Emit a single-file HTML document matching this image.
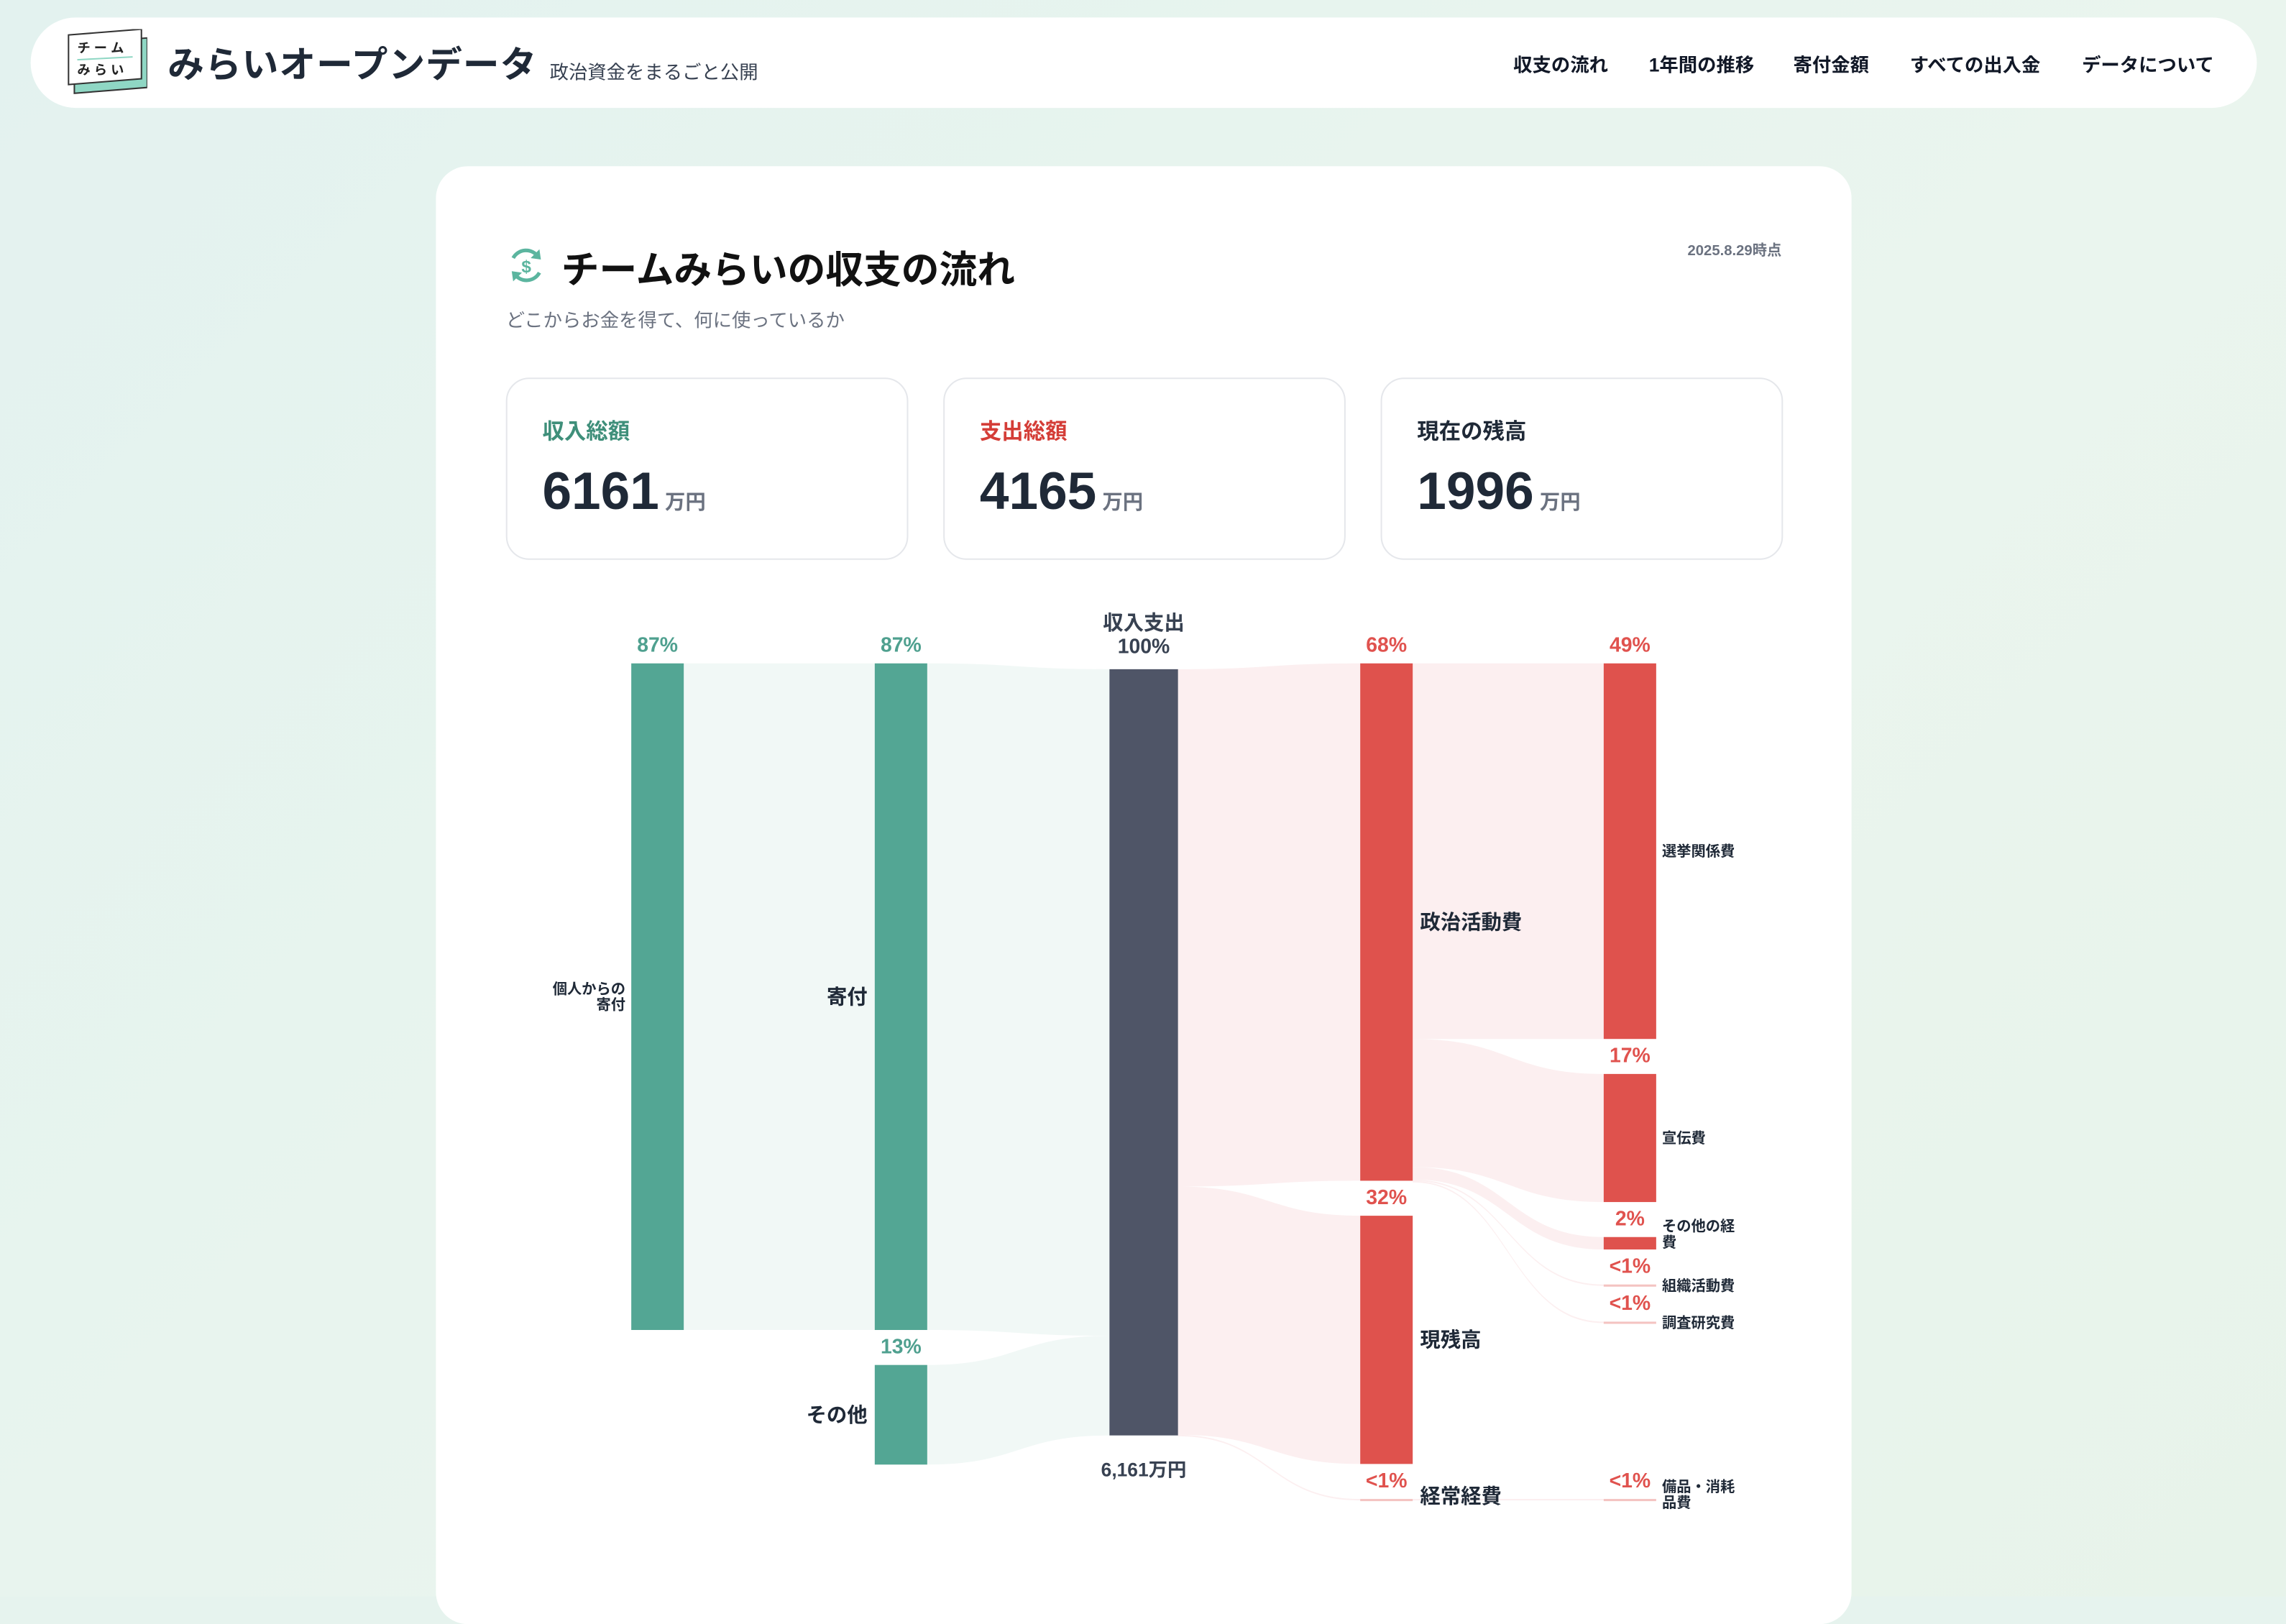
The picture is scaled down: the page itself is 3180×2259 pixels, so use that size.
<!DOCTYPE html>
<html><head><meta charset="utf-8">
<style>
html,body{margin:0;padding:0;width:3180px;height:2220px;overflow:hidden;background:#e6f3ee}
#root{position:absolute;left:0;top:0;width:1568px;height:1095px;transform:scale(2.02806);transform-origin:0 0;
 font-family:"Liberation Sans","Noto Sans CJK JP",sans-serif;color:#1f2937;
 background:linear-gradient(135deg,#e3f2ef 0%,#eaf5ee 60%,#e7f3ea 100%)}
.header{position:absolute;left:21px;top:12px;width:1527px;height:62px;background:#fff;border-radius:31px}
.logo{position:absolute;left:24px;top:8px;width:56px;height:46px}
.brand{position:absolute;left:94px;top:13px;font-size:25px;font-weight:bold;color:#1f2937;letter-spacing:0.5px}
.tag{position:absolute;left:356px;top:27px;font-size:13px;color:#374151}
.nav{position:absolute;top:22px;font-size:13px;font-weight:bold;color:#111827}
.card{position:absolute;left:299px;top:114px;width:971px;height:1000px;background:#fff;border-radius:22px}
.title{position:absolute;left:86px;top:51px;font-size:26px;font-weight:bold;color:#111}
.sub{position:absolute;left:48px;top:95px;font-size:13px;color:#6b7280}
.date{position:absolute;right:48px;top:49px;font-size:10px;font-weight:bold;color:#6b7280}
.kpi{position:absolute;top:145px;width:276px;height:125px;border:1px solid #e5e7eb;border-radius:16px;box-sizing:border-box}
.kpi .l{position:absolute;left:24px;top:25px;font-size:15px;font-weight:bold}
.kpi .v{position:absolute;left:24px;top:56px;font-size:36px;font-weight:bold;color:#1f2937}
.kpi .v span{font-size:14px;color:#6b7280;margin-left:4px}
svg text{font-family:"Liberation Sans","Noto Sans CJK JP",sans-serif}
</style></head><body>
<div id="root">
 <div class="header">
  <svg class="logo" viewBox="0 0 56 46">
   <polygon points="6,10 56,6 56,40 6,44" fill="#8fd7c4" stroke="#333" stroke-width="1"/>
   <polygon points="2,4 52,0 52,34 2,38" fill="#fff" stroke="#333" stroke-width="1"/>
   <text x="8" y="16" font-size="9" font-weight="bold" fill="#222">チ ー ム</text>
   <line x1="8" y1="21" x2="46" y2="19" stroke="#8fd7c4"/>
   <text x="8" y="31" font-size="9" font-weight="bold" fill="#222">み ら い</text>
  </svg>
  <div class="brand">みらいオープンデータ</div>
  <div class="tag">政治資金をまるごと公開</div>
  <div class="nav" style="left:1017px">収支の流れ</div>
  <div class="nav" style="left:1110px">1年間の推移</div>
  <div class="nav" style="left:1209px">寄付金額</div>
  <div class="nav" style="left:1289px">すべての出入金</div>
  <div class="nav" style="left:1407px">データについて</div>
 </div>
 <div class="card">
  <svg style="position:absolute;left:48px;top:54px" width="28" height="28" viewBox="0 0 28 28">
   <path d="M22 8 A10 10 0 0 0 5 9" fill="none" stroke="#5bb59f" stroke-width="2.5"/>
   <path d="M6 20 A10 10 0 0 0 23 19" fill="none" stroke="#5bb59f" stroke-width="2.5"/>
   <polygon points="23,3 24,10 17,9" fill="#5bb59f"/><polygon points="5,25 4,18 11,19" fill="#5bb59f"/>
   <text x="14" y="19" font-size="12" font-weight="bold" fill="#5bb59f" text-anchor="middle">$</text>
  </svg>
  <div class="title">チームみらいの収支の流れ</div>
  <div class="date">2025.8.29時点</div>
  <div class="sub">どこからお金を得て、何に使っているか</div>
  <div class="kpi" style="left:48px"><div class="l" style="color:#3f8f7a">収入総額</div><div class="v">6161<span>万円</span></div></div>
  <div class="kpi" style="left:348px"><div class="l" style="color:#d43d37">支出総額</div><div class="v">4165<span>万円</span></div></div>
  <div class="kpi" style="left:648px"><div class="l" style="color:#1f2937">現在の残高</div><div class="v">1996<span>万円</span></div></div>
 </div>
 <svg id="sankey" style="position:absolute;left:0;top:0" width="1568" height="1095"></svg>
</div>
<script>
const nodeNames=["個人からの寄付","寄付","その他","収入支出","政治活動費","現残高","経常経費","選挙関係費","宣伝費","その他の経費","組織活動費","調査研究費","備品・消耗品費"];
const nodeCols=[0,1,1,2,3,3,3,4,4,4,4,4,4];
const nodePct=["87%","87%","13%","100%","68%","32%","<1%","49%","17%","2%","<1%","<1%","<1%"];
const linkSrc=[0,1,2,3,3,3,4,4,4,4,4,6];
const linkTgt=[1,3,3,4,5,6,7,8,9,10,11,12];
const linkVal=[5360,5360,801,4160,1996,5,3020,1030,100,6,4,5];
const colX=[433,600,761,933,1100];
const colW=[36,36,47,36,36];
const NS="http://www.w3.org/2000/svg";
const svg=document.getElementById('sankey');
const k=0.0853, gap=24, top0=455;
function mk(t,a){const e=document.createElementNS(NS,t);for(const x in a)e.setAttribute(x,a[x]);return e;}
const nv=nodeNames.map((_,i)=>{let i1=0,o=0;linkVal.forEach((v,j)=>{if(linkTgt[j]===i)i1+=v;if(linkSrc[j]===i)o+=v;});return Math.max(i1,o);});
const ny=[],nh=[];
const colCursor=[top0,top0,459,top0,top0];
nodeNames.forEach((n,i)=>{const c=nodeCols[i];const h=Math.max(1.5,nv[i]*k);ny[i]=colCursor[c];nh[i]=h;colCursor[c]+=h+gap;});
linkSrc.forEach((s,j)=>{if(nodeCols[s]===3&&nodeCols[linkTgt[j]]===4&&s!==4){ny[linkTgt[j]]=ny[s];}});
const so=nodeNames.map(()=>0),to=nodeNames.map(()=>0);
linkVal.forEach((v,j)=>{
 const s=linkSrc[j],t=linkTgt[j],h=Math.max(1,v*k);
 const x0=colX[nodeCols[s]]+colW[nodeCols[s]],x1=colX[nodeCols[t]];
 const y0=ny[s]+so[s],y1=ny[t]+to[t];so[s]+=h;to[t]+=h;
 const mx=(x0+x1)/2;
 const p=mk('path',{d:`M${x0},${y0}C${mx},${y0} ${mx},${y1} ${x1},${y1}L${x1},${y1+h}C${mx},${y1+h} ${mx},${y0+h} ${x0},${y0+h}Z`,fill:nodeCols[s]<=1?'#eef7f4':'#fbeced','fill-opacity':0.85});
 
 
 svg.appendChild(p);
});
nodeNames.forEach((n,i)=>{
 const c=nodeCols[i];
 const col=c===2?'#4f5567':(c<=1?'#53a694':'#df524d');
 const r=mk('rect',{x:colX[c],y:ny[i],width:colW[c],height:nh[i],fill:col,'fill-opacity':nh[i]<3?0.35:1});
 
 
 svg.appendChild(r);
 const pc=c===2?'#374151':(c<=1?'#4fa08f':'#e0524e');
 const cx=colX[c]+colW[c]/2;
 if(c===2){
  const t1=mk('text',{x:cx,y:ny[i]-27,'font-size':14,'font-weight':'bold',fill:'#374151','text-anchor':'middle'});t1.textContent='収入支出';
  svg.appendChild(t1);
  const t2=mk('text',{x:cx,y:ny[i]-11,'font-size':14,'font-weight':'bold',fill:'#374151','text-anchor':'middle'});t2.textContent=nodePct[i];
  svg.appendChild(t2);
  const t3=mk('text',{x:cx,y:ny[i]+nh[i]+28,'font-size':13,'font-weight':'bold',fill:'#374151','text-anchor':'middle'});t3.textContent='6,161万円';
  svg.appendChild(t3);
  return;
 }
 const t=mk('text',{x:cx,y:ny[i]-8,'font-size':14,'font-weight':'bold',fill:pc,'text-anchor':'middle'});t.textContent=nodePct[i];
 svg.appendChild(t);
 const mid=ny[i]+nh[i]/2;
 let lines=[n],fs=14,anchor='start',lx=colX[c]+colW[c]+5;
 if(c===0){lines=['個人からの','寄付'];fs=10;anchor='end';lx=colX[c]-4;}
 if(c===1){anchor='end';lx=colX[c]-5;}
 if(c===4){fs=10;lx=colX[c]+colW[c]+4;if(n==='その他の経費')lines=['その他の経','費'];if(n==='備品・消耗品費')lines=['備品・消耗','品費'];}
 let ly=mid+fs*0.35-(lines.length-1)*fs*0.55;
 if(n==='経常経費')ly=ny[i]+3;
 if(n==='備品・消耗品費')ly=ny[i]-5;
 if(n==='その他の経費')ly=ny[i]-4;
 lines.forEach((s,q)=>{
  const e=mk('text',{x:lx,y:ly+q*fs*1.1,'font-size':fs,'font-weight':'bold',fill:'#1f2937','text-anchor':anchor});e.textContent=s;
  svg.appendChild(e);
 });
});
</script>
</body></html>
